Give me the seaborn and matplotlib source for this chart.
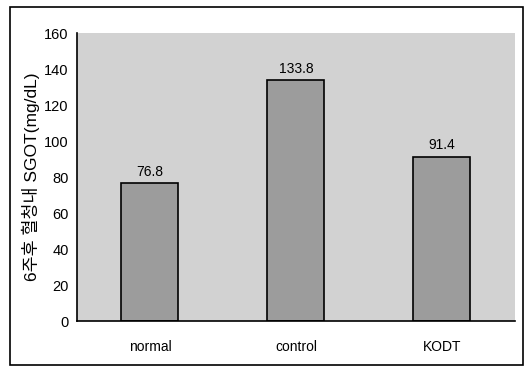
import matplotlib
matplotlib.use("Agg")
import matplotlib.pyplot as plt
import seaborn as sns
import pandas as pd
from matplotlib.patches import Rectangle

groups = ["normal", "control", "KODT"]
sgot = [76.8, 133.8, 91.4]
y_ticks = [0, 20, 40, 60, 80, 100, 120, 140, 160]
y_label = "6주후 혈청내 SGOT(mg/dL)"

sns.set_style("white")
plt.rcParams["font.family"] = ["Liberation Sans", "Noto Sans CJK KR", "DejaVu Sans"]
plt.rcParams["text.color"] = "black"
plt.rcParams["axes.labelcolor"] = "black"
plt.rcParams["xtick.color"] = "black"
plt.rcParams["ytick.color"] = "black"

df = pd.DataFrame({"group": groups, "sgot": sgot})

fig = plt.figure(figsize=(5.27, 3.69), dpi=100)
ax = fig.add_axes([0.146, 0.130, 0.831, 0.780])
ax.set_facecolor("#d2d2d2")

sns.barplot(data=df, x="group", y="sgot", ax=ax, color="#9c9c9c",
            width=0.39, edgecolor="black", linewidth=1.2, saturation=1)

for cont in ax.containers:
    ax.bar_label(cont, labels=[f"{v:.1f}" for v in sgot], padding=3,
                 fontsize=10, color="black")

ax.set_ylim(0, 160)
ax.set_yticks(y_ticks)
ax.set_xlim(-0.5, 2.5)
ax.set_xlabel("")
ax.set_ylabel(y_label, fontsize=12.5, labelpad=3)
ax.tick_params(axis="y", labelsize=10.5, length=3, width=0.8, direction="in", pad=6)
ax.tick_params(axis="x", labelsize=10, length=0, pad=14)

for s in ["top", "right"]:
    ax.spines[s].set_visible(False)
for s in ["left", "bottom"]:
    ax.spines[s].set_color("black")
    ax.spines[s].set_linewidth(1.2)

# outer frame around the whole chart
fig.patches.append(Rectangle((10 / 527, 1 - 365 / 369), 513 / 527, 358 / 369,
                             transform=fig.transFigure, fill=False,
                             edgecolor="black", linewidth=1.2))

fig.savefig("out.png", dpi=100)
